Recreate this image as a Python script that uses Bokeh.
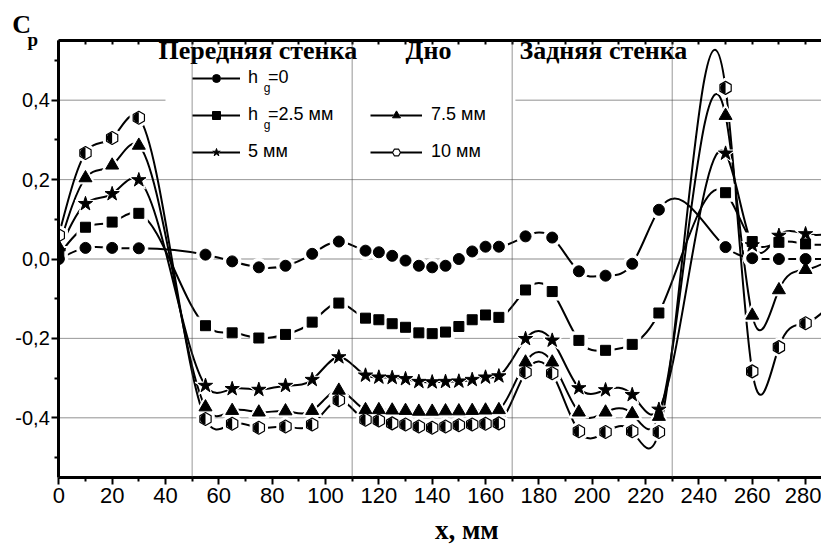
import numpy as np
from bokeh.plotting import figure
from bokeh.models import (ColumnDataSource, Range1d, LinearAxis, FixedTicker,
                          CustomJSTickFormatter, Label, Legend, LegendItem,
                          BoxAnnotation)
from bokeh.embed import file_html
from bokeh.resources import INLINE

# ---------------- data ----------------
x_mm = [0, 10, 20, 30, 55, 65, 75, 85, 95, 105,
        115, 120, 125, 130, 135, 140, 145, 150, 155, 160, 165,
        175, 185, 195, 205, 215, 225, 250, 260, 270, 280, 290]

cp_h0 = [0.000, 0.028, 0.028, 0.027, 0.011, -0.006, -0.021, -0.017, 0.013, 0.044,
         0.021, 0.017, 0.008, -0.004, -0.017, -0.021, -0.017, 0.000, 0.019, 0.031, 0.031,
         0.057, 0.054, -0.031, -0.042, -0.012, 0.124, 0.030, 0.002, 0.000, 0.000, 0.000]

cp_h25 = [0.010, 0.080, 0.093, 0.115, -0.168, -0.186, -0.199, -0.190, -0.159, -0.111,
          -0.149, -0.153, -0.163, -0.172, -0.186, -0.188, -0.184, -0.170, -0.153, -0.141, -0.147,
          -0.078, -0.082, -0.205, -0.230, -0.215, -0.136, 0.167, 0.044, 0.042, 0.038, 0.036]

cp_h5 = [0.020, 0.139, 0.164, 0.199, -0.319, -0.327, -0.329, -0.319, -0.304, -0.247,
         -0.293, -0.298, -0.299, -0.302, -0.309, -0.310, -0.309, -0.308, -0.304, -0.298, -0.295,
         -0.201, -0.205, -0.325, -0.330, -0.342, -0.379, 0.266, 0.035, 0.059, 0.063, 0.063]

cp_h75 = [0.030, 0.204, 0.236, 0.286, -0.373, -0.382, -0.386, -0.383, -0.382, -0.331,
          -0.380, -0.380, -0.381, -0.382, -0.384, -0.384, -0.383, -0.383, -0.382, -0.381, -0.380,
          -0.260, -0.260, -0.386, -0.386, -0.390, -0.397, 0.361, -0.142, -0.078, -0.027, 0.000]

cp_h10 = [0.060, 0.267, 0.305, 0.356, -0.403, -0.415, -0.425, -0.422, -0.417, -0.356,
          -0.405, -0.407, -0.414, -0.417, -0.422, -0.425, -0.422, -0.419, -0.417, -0.415, -0.414,
          -0.285, -0.288, -0.434, -0.436, -0.434, -0.436, 0.431, -0.283, -0.222, -0.162, -0.110]

series_labels = ["h\u00a0\u00a0=0", "h\u00a0\u00a0=2.5 мм", "5 мм", "7.5 мм", "10 мм"]
section_titles = ["Передняя стенка", "Дно", "Задняя стенка"]
section_title_x = [37.4, 130.0, 172.7]
section_bounds = [50, 110, 170, 230]
y_grid = [0.4, 0.2, -0.2, -0.4]
x_major = list(range(0, 300, 20))
x_minor = list(range(10, 300, 20))
y_major = [-0.4, -0.2, 0.0, 0.2, 0.4]
y_minor = [-0.5, -0.3, -0.1, 0.1, 0.3, 0.5]
X_START, X_END = -21.86, 300
Y_LO, Y_HI = -0.55, 0.55

SANS = "Liberation Sans"
SERIF = "Liberation Serif"


def spline_slopes(x, y):
    """Slopes of the natural cubic spline through (x, y) (used for the smooth connector)."""
    x = np.asarray(x, float)
    y = np.asarray(y, float)
    n = len(x)
    h = np.diff(x)
    d = np.diff(y) / h
    A = np.zeros((n, n))
    b = np.zeros(n)
    A[0, 0] = 1.0
    A[-1, -1] = 1.0
    for i in range(1, n - 1):
        A[i, i - 1] = h[i - 1]
        A[i, i] = 2 * (h[i - 1] + h[i])
        A[i, i + 1] = h[i]
        b[i] = 6 * (d[i] - d[i - 1])
    M = np.linalg.solve(A, b)
    m = np.empty(n)
    m[:-1] = d - h * (2 * M[:-1] + M[1:]) / 6
    m[-1] = d[-1] + h[-1] * (M[-2] + 2 * M[-1]) / 6
    return m


def bezier_source(x, y):
    x = np.asarray(x, float)
    y = np.asarray(y, float)
    m = spline_slopes(x, y)
    h = np.diff(x)
    return ColumnDataSource(dict(
        x0=x[:-1], y0=y[:-1], x1=x[1:], y1=y[1:],
        cx0=x[:-1] + h / 3, cy0=y[:-1] + m[:-1] * h / 3,
        cx1=x[1:] - h / 3, cy1=y[1:] - m[1:] * h / 3))


# ---------------- figure ----------------
p = figure(width=821, height=544, output_backend="svg", toolbar_location=None,
           x_range=Range1d(X_START, 285.97), y_range=Range1d(-0.7191, 0.6511),
           min_border=0, min_border_left=0, min_border_right=0, min_border_top=0,
           min_border_bottom=0, outline_line_color=None,
           background_fill_color="white", border_fill_color="white")
p.xgrid.visible = False
p.ygrid.visible = False

xa = p.xaxis[0]
xa.fixed_location = Y_LO
xa.bounds = (0, X_END)
xa.ticker = FixedTicker(ticks=x_major, minor_ticks=x_minor)
xa.axis_line_width = 3
xa.major_tick_in = 0
xa.major_tick_out = 7
xa.minor_tick_in = 0
xa.minor_tick_out = 4
xa.major_tick_line_width = 2
xa.minor_tick_line_width = 2
xa.major_label_text_font = SANS
xa.major_label_text_font_size = "22px"
xa.major_label_text_color = "black"
xa.major_label_standoff = 4

ya = p.yaxis[0]
ya.fixed_location = 0
ya.bounds = (Y_LO, Y_HI)
ya.ticker = FixedTicker(ticks=y_major, minor_ticks=y_minor)
ya.formatter = CustomJSTickFormatter(code="return tick.toFixed(1).replace('.', ',');")
ya.axis_line_width = 3
ya.major_tick_in = 0
ya.major_tick_out = 7
ya.minor_tick_in = 0
ya.minor_tick_out = 4
ya.major_tick_line_width = 2
ya.minor_tick_line_width = 2
ya.major_label_text_font = SANS
ya.major_label_text_font_size = "20px"
ya.major_label_text_color = "black"
ya.major_label_standoff = 2

top = LinearAxis(fixed_location=Y_HI, bounds=(0, X_END),
                 ticker=FixedTicker(ticks=x_major, minor_ticks=x_minor),
                 formatter=CustomJSTickFormatter(code="return '';"),
                 major_label_text_font_size="10px", axis_line_width=3,
                 major_tick_in=4, major_tick_out=0, minor_tick_in=4, minor_tick_out=0,
                 major_tick_line_width=2, minor_tick_line_width=2)
p.add_layout(top, "above")

# grid lines (zero-height boxes = lines bounded by the axes)
for yv in y_grid:
    p.add_layout(BoxAnnotation(left=0, right=X_END, bottom=yv, top=yv, fill_alpha=0,
                               line_color="#3a3a3a", line_width=1, level="underlay"))
p.add_layout(BoxAnnotation(left=0, right=X_END, bottom=0.0, top=0.0, fill_alpha=0,
                           line_color="black", line_width=1.5, level="underlay"))

# ---------------- series ----------------
series = [
    dict(y=cp_h0, marker="circle", size=11, leg=8),
    dict(y=cp_h25, marker="square", size=10, leg=8),
    dict(y=cp_h5, marker="star", size=15, leg=11),
    dict(y=cp_h75, marker="triangle", size=13, leg=10),
    dict(y=cp_h10, marker="hex", size=13, leg=10),
]
sources = [ColumnDataSource(dict(x=x_mm, y=s["y"])) for s in series]

for s in series:
    p.bezier(x0="x0", y0="y0", x1="x1", y1="y1", cx0="cx0", cy0="cy0", cx1="cx1",
             cy1="cy1", source=bezier_source(x_mm, s["y"]), line_color="black", line_width=2)

for s, src in zip(series, sources):
    ang = np.pi / 2 if s["marker"] == "hex" else 0
    p.scatter("x", "y", source=src, marker=s["marker"], size=s["size"] + 7,
              angle=ang, fill_color="white", line_color="white")

for s, src in zip(series, sources):
    if s["marker"] == "hex":
        p.scatter("x", "y", source=src, marker="hex", size=s["size"], angle=np.pi / 2,
                  fill_color="white", line_color=None)
        p.wedge("x", "y", source=src, radius=5.4, radius_units="screen",
                start_angle=np.pi / 2, end_angle=3 * np.pi / 2,
                fill_color="black", line_color=None)
        p.scatter("x", "y", source=src, marker="hex", size=s["size"], angle=np.pi / 2,
                  fill_color=None, line_color="black", line_width=1.2)
    else:
        p.scatter("x", "y", source=src, marker=s["marker"], size=s["size"],
                  fill_color="black", line_color="black")

# white strip left of the y axis: marks are cut at the axis as in the original
p.add_layout(BoxAnnotation(left=X_START, right=0, bottom=-0.7191, top=0.6511,
                           fill_color="white", fill_alpha=1.0, line_color=None,
                           level="glyph"))

# ---------------- legend ----------------
p.add_layout(BoxAnnotation(left=40, right=171.2, top=0.51, bottom=0.225,
                           fill_color="white", fill_alpha=1.0, line_color=None))

items = []
for s, lab in zip(series, series_labels):
    dummy = ColumnDataSource(dict(x=[np.nan], y=[np.nan]))
    ang = np.pi / 2 if s["marker"] == "hex" else 0
    l = p.line("x", "y", source=dummy, line_color="black", line_width=2)
    h = p.scatter("x", "y", source=dummy, marker=s["marker"], size=s["leg"] + 6,
                  angle=ang, fill_color="white", line_color="white")
    if s["marker"] == "hex":
        m = p.scatter("x", "y", source=dummy, marker="hex", size=s["leg"], angle=ang,
                      fill_color="white", line_color="black", line_width=1.2)
    else:
        m = p.scatter("x", "y", source=dummy, marker=s["marker"], size=s["leg"],
                      fill_color="black", line_color="black")
    items.append(LegendItem(label=lab, renderers=[l, h, m]))

common = dict(background_fill_alpha=0, border_line_color=None, padding=0, margin=0,
              spacing=16, glyph_height=20, label_height=20,
              label_text_font=SANS, label_text_font_size="18px", label_text_color="black",
              orientation="vertical")
legA = Legend(items=items[:3], location=(192, 382), glyph_width=48, label_standoff=8, **common)
legB = Legend(items=items[3:], location=(370, 382), glyph_width=52, label_standoff=9, **common)
p.add_layout(legA)
p.add_layout(legB)

for xb in section_bounds:
    p.add_layout(BoxAnnotation(left=xb, right=xb, bottom=Y_LO, top=Y_HI, fill_alpha=0,
                               line_color="#444444", line_width=1, level="overlay"))

for yy in [0.4295, 0.3363]:
    p.add_layout(Label(x=76.8, y=yy, text="g", text_font=SANS, text_font_size="12px",
                       text_baseline="middle", text_color="black"))

for t, tx in zip(section_titles, section_title_x):
    p.add_layout(Label(x=tx, y=0.5264, text=t, text_font=SERIF, text_font_style="bold",
                       text_font_size="26px", text_baseline="middle", text_color="black"))

p.add_layout(Label(x=-17.5, y=0.5907, text="C", text_font=SERIF, text_font_style="bold",
                   text_font_size="26px", text_baseline="middle", text_color="black"))
p.add_layout(Label(x=-11.7, y=0.552, text="p", text_font=SERIF, text_font_style="bold",
                   text_font_size="19px", text_baseline="middle", text_color="black"))
p.add_layout(Label(x=153, y=-0.6814, text="x, мм", text_font=SERIF, text_font_style="bold",
                   text_font_size="27px", text_align="center", text_baseline="middle",
                   text_color="black"))

open("out.html", "w").write(file_html(p, INLINE))
